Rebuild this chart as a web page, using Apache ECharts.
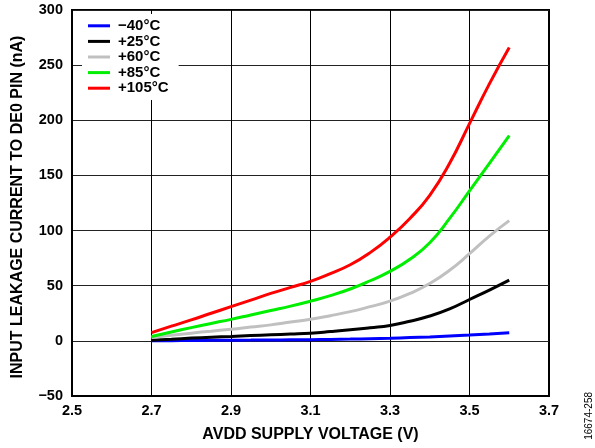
<!DOCTYPE html>
<html>
<head>
<meta charset="utf-8">
<script src="https://cdn.jsdelivr.net/npm/echarts@6/dist/echarts.min.js"></script>
<style>
html,body{margin:0;padding:0;background:#fff;}
#c{width:595px;height:448px;}
</style>
</head>
<body>
<div id="c"></div>
<script>
const voltage = [2.7, 2.75, 2.8, 2.85, 2.9, 2.95, 3.0, 3.05, 3.1, 3.15, 3.2, 3.25, 3.3, 3.35, 3.4, 3.45, 3.5, 3.55, 3.6];
const seriesNames = ['\u221240\u00b0C', '+25\u00b0C', '+60\u00b0C', '+85\u00b0C', '+105\u00b0C'];
const seriesColors = ['#0000ff', '#000000', '#c0c0c0', '#00ee00', '#ff0000'];
const leakM40 = [0, 0.15, 0.3, 0.45, 0.6, 0.7, 0.8, 0.9, 1, 1.3, 1.6, 2, 2.4, 3, 3.6, 4.4, 5.2, 6.2, 7.3];
const leak25 = [0.5, 1.5, 2.5, 3.3, 4, 4.8, 5.5, 6.2, 7, 8.4, 10, 11.9, 14, 17.8, 22.5, 29, 37.5, 46, 55];
const leak60 = [3, 5, 7, 8.8, 10.5, 12.5, 14.5, 17, 19.5, 22.8, 26.5, 31, 36, 43, 52, 64, 79, 95, 109];
const leak85 = [4, 8, 12, 15.8, 19.5, 23.5, 27.5, 31.5, 36, 41, 47, 54.5, 63, 74, 89, 111, 136, 161, 186];
const leak105 = [7.5, 13.3, 19, 25, 31, 37, 43, 48.5, 54, 61, 69, 80, 94, 111, 132, 161, 197, 233, 266];
const xTicks = { min: 2.5, max: 3.7, step: 0.2 };
const yTicks = { min: -50, max: 300, step: 50 };

const allData = [leakM40, leak25, leak60, leak85, leak105];
const font = 'Liberation Sans, Arial, sans-serif';

const chart = echarts.init(document.getElementById('c'));
chart.setOption({
  animation: false,
  backgroundColor: '#fff',
  grid: { left: 72, right: 46, top: 10, bottom: 52, show: true, borderColor: '#000', borderWidth: 2,
    outerBoundsMode: 'none', containLabel: false },
  legend: {
    orient: 'vertical', left: 82, top: 14,
    backgroundColor: '#fff', padding: [4, 10, 4, 6],
    icon: 'rect', itemWidth: 22, itemHeight: 3, itemGap: 0,
    textStyle: { fontFamily: font, fontWeight: 'bold', fontSize: 15, color: '#000', lineHeight: 15.6, padding: [0, 0, 0, 3] },
    data: seriesNames
  },
  xAxis: {
    type: 'value', min: xTicks.min, max: xTicks.max, interval: xTicks.step,
    name: 'AVDD SUPPLY VOLTAGE (V)', nameLocation: 'middle', nameGap: 31,
    nameTextStyle: { fontFamily: font, fontWeight: 'bold', fontSize: 16, color: '#000' },
    axisLine: { show: true, onZero: false, lineStyle: { color: '#000', width: 2 } },
    axisTick: { show: false },
    axisLabel: { fontFamily: font, fontWeight: 'bold', fontSize: 14.5, color: '#000', margin: 7,
      formatter: v => v.toFixed(1) },
    splitLine: { show: true, lineStyle: { color: '#000', width: 1 } }
  },
  yAxis: {
    type: 'value', min: yTicks.min, max: yTicks.max, interval: yTicks.step,
    name: 'INPUT LEAKAGE CURRENT TO DE0 PIN (nA)', nameLocation: 'middle', nameGap: 46,
    nameTextStyle: { fontFamily: font, fontWeight: 'bold', fontSize: 16, color: '#000', padding: [0, 8, 0, 0] },
    axisLine: { show: true, lineStyle: { color: '#000', width: 2 } },
    axisTick: { show: false },
    axisLabel: { fontFamily: font, fontWeight: 'bold', fontSize: 14.5, color: '#000', margin: 9,
      formatter: v => v < 0 ? '\u2212' + Math.abs(v) : String(v) },
    splitLine: { show: true, lineStyle: { color: '#222', width: 1 } }
  },
  graphic: [{
    type: 'text', left: 584, top: 392, rotation: Math.PI / 2,
    style: { text: '16674-258', fontFamily: font, fontSize: 10, fill: '#000' }
  }],
  series: seriesNames.map((n, i) => ({
    name: n, type: 'line', smooth: 0.5, showSymbol: false,
    color: seriesColors[i],
    lineStyle: { width: 3, color: seriesColors[i] },
    data: voltage.map((v, j) => [v, allData[i][j]])
  }))
});
</script>
</body>
</html>
